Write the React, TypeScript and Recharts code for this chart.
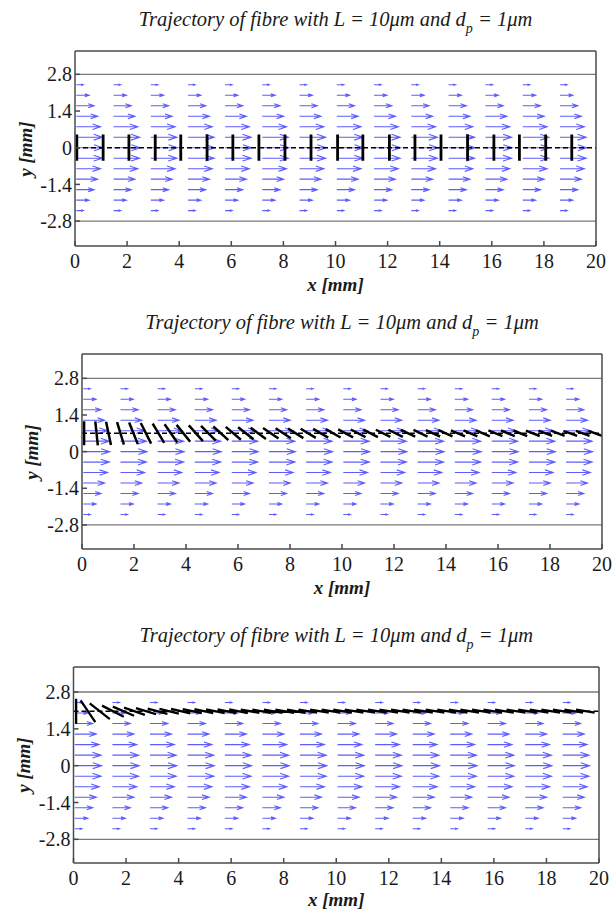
import { ComposedChart, Line, XAxis, YAxis, ReferenceLine } from "recharts";

// velocity field sample grid (mm) and arrow length per row (mm)
const quiverX = [0.05, 1.48, 2.91, 4.34, 5.76, 7.19, 8.62, 10.05, 11.48, 12.91, 14.34, 15.76, 17.19, 18.62];
const quiverY = [2.4, 2.0, 1.6, 1.2, 0.8, 0.4, 0, -0.4, -0.8, -1.2, -1.6, -2.0, -2.4];
const quiverU = [0.27, 0.49, 0.68, 0.82, 0.93, 1.0, 1.02, 1.0, 0.93, 0.82, 0.68, 0.49, 0.27];

const xTicks = [0, 2, 4, 6, 8, 10, 12, 14, 16, 18, 20];
const yTicks = [-2.8, -1.4, 0, 1.4, 2.8];
const wallY = [2.8, -2.8];

// fibre snapshots: centre x (mm), tilt from vertical (deg), drawn length (mm)
const fibre1Y = 0;
const fibre1X = [0.07, 1.08, 2.07, 3.08, 4.06, 5.07, 6.06, 7.06, 8.06, 9.06, 10.08, 11.05, 12.07, 13.05, 14.05, 15.07, 16.08, 17.06, 18.07, 19.07];
const fibre1Tilt = [0, 0, 0, 0, 0, 0, 0, 0, 0, 0, 0, 0, 0, 0, 0, 0, 0, 0, 0, 0];
const fibre1Len = [1, 1, 1, 1, 1, 1, 1, 1, 1, 1, 1, 1, 1, 1, 1, 1, 1, 1, 1, 1];

const fibre2Y = 0.7;
const fibre2X = [0.08, 0.56, 1.02, 1.48, 1.98, 2.46, 2.94, 3.42, 3.9, 4.38, 4.86, 5.34, 5.82, 6.3, 6.78, 7.26, 7.74, 8.22, 8.7, 9.18, 9.66, 10.14, 10.62, 11.1, 11.58, 12.06, 12.54, 13.02, 13.5, 13.98, 14.46, 14.94, 15.42, 15.9, 16.38, 16.86, 17.34, 17.82, 18.3, 18.78, 19.26, 19.74];
const fibre2Tilt = [0, 6, 12, 17, 22, 27, 31, 35, 39, 42, 45, 48, 50, 52, 54, 56, 57, 58, 59, 60, 61, 62, 63, 63, 64, 64, 65, 65, 66, 66, 67, 67, 67, 68, 68, 68, 69, 69, 69, 70, 70, 70];
const fibre2Len = [0.92, 0.92, 0.91, 0.9, 0.89, 0.88, 0.86, 0.85, 0.83, 0.81, 0.8, 0.78, 0.76, 0.75, 0.73, 0.72, 0.7, 0.69, 0.68, 0.67, 0.66, 0.65, 0.64, 0.63, 0.62, 0.62, 0.61, 0.6, 0.6, 0.59, 0.59, 0.58, 0.58, 0.58, 0.57, 0.57, 0.57, 0.56, 0.56, 0.56, 0.56, 0.56];

const fibre3Y = 2.07;
const fibre3X = [0.1, 0.55, 1.0, 1.5, 1.9, 2.32, 2.76, 3.2, 3.64, 4.08, 4.52, 4.96, 5.4, 5.84, 6.28, 6.72, 7.16, 7.6, 8.04, 8.48, 8.92, 9.36, 9.8, 10.24, 10.68, 11.12, 11.56, 12.0, 12.44, 12.88, 13.32, 13.76, 14.2, 14.64, 15.08, 15.52, 15.96, 16.4, 16.84, 17.28, 17.72, 18.16, 18.6, 19.04, 19.48];
const fibre3Tilt = [0, 34, 52, 63, 67, 71, 73, 75, 76, 77, 78, 78, 79, 79, 79, 80, 80, 80, 80, 80, 81, 81, 81, 81, 81, 81, 81, 81, 81, 81, 81, 81, 81, 81, 81, 81, 81, 81, 81, 81, 81, 81, 81, 81, 81];
const fibre3Len = [0.95, 1.0, 0.97, 0.93, 0.88, 0.84, 0.8, 0.78, 0.76, 0.75, 0.74, 0.73, 0.72, 0.72, 0.72, 0.72, 0.72, 0.72, 0.72, 0.72, 0.72, 0.72, 0.72, 0.72, 0.72, 0.72, 0.72, 0.72, 0.72, 0.72, 0.72, 0.72, 0.72, 0.72, 0.72, 0.72, 0.72, 0.72, 0.72, 0.72, 0.72, 0.72, 0.72, 0.72, 0.72];

type Pt = { x: number; y: number | null };

const SERIF = '"Liberation Serif", "Times New Roman", serif';
const FRAME = "#4a4a4a";

// quiver arrows: shaft + open head, broken by nulls
function quiverPoints(): Pt[] {
  const pts: Pt[] = [];
  quiverY.forEach((y, r) => {
    const u = quiverU[r];
    quiverX.forEach((x) => {
      const tip = x + u;
      pts.push({ x, y }, { x: tip, y }, { x: tip, y: null });
      pts.push(
        { x: tip - 0.33 * u, y: y + 0.11 * u },
        { x: tip, y },
        { x: tip - 0.33 * u, y: y - 0.11 * u },
        { x: tip, y: null },
      );
    });
  });
  return pts;
}

function fibrePoints(xs: number[], cy: number, tilt: number[], len: number[]): Pt[] {
  const pts: Pt[] = [];
  xs.forEach((cx, i) => {
    const a = (tilt[i] * Math.PI) / 180;
    const h = len[i] / 2;
    const dx = h * Math.sin(a);
    const dy = h * Math.cos(a);
    pts.push({ x: cx - dx, y: cy + dy }, { x: cx + dx, y: cy - dy }, { x: cx + dx, y: null });
  });
  return pts;
}

const quiver = quiverPoints();

interface PanelProps {
  top: number;
  left: number;
  right: number;
  bottom: number;
  yDomain: [number, number];
  fibre: Pt[];
  centreY: number;
  fibreWidth: number;
  titleBase: number;
  xLabelY: number;
  yLabelX: number;
}

function Panel(p: PanelProps) {
  const chartTop = p.top - 20;
  const height = p.bottom - p.top + 20 + 54;
  const cx = (p.left + p.right) / 2;
  const cy = (p.top + p.bottom) / 2;
  const tickStyle = { fill: "#1a1a1a", fontSize: 20, fontFamily: SERIF };

  return (
    <>
      <div
        style={{
          position: "absolute",
          left: cx,
          top: p.titleBase - 16.75,
          transform: "translateX(-50%)",
          whiteSpace: "nowrap",
          fontFamily: SERIF,
          fontStyle: "italic",
          fontSize: 20.5,
          lineHeight: "20px",
          color: "#1a1a1a",
        }}
      >
        Trajectory of fibre with L = 10μm and d
        <span style={{ fontSize: 14, position: "relative", top: 7 }}>p</span> = 1μm
      </div>
      <div
        style={{
          position: "absolute",
          left: cx,
          top: p.xLabelY,
          transform: "translate(-50%, -50%)",
          whiteSpace: "nowrap",
          fontFamily: SERIF,
          fontStyle: "italic",
          fontWeight: "bold",
          fontSize: 19,
          lineHeight: "19px",
          color: "#1a1a1a",
        }}
      >
        x [mm]
      </div>
      <div
        style={{
          position: "absolute",
          left: p.yLabelX,
          top: cy,
          transform: "translate(-50%, -50%) rotate(-90deg)",
          whiteSpace: "nowrap",
          fontFamily: SERIF,
          fontStyle: "italic",
          fontWeight: "bold",
          fontSize: 19,
          lineHeight: "19px",
          color: "#1a1a1a",
        }}
      >
        y [mm]
      </div>
      <div style={{ position: "absolute", left: 0, top: chartTop }}>
        <ComposedChart
          width={612}
          height={height}
          margin={{ top: 15, left: p.left - 45, right: 612 - p.right - 5, bottom: 4 }}
        >
          <XAxis
            xAxisId="b"
            type="number"
            dataKey="x"
            domain={[0, 20]}
            ticks={xTicks}
            interval={0}
            allowDataOverflow
            height={50}
            tickSize={-5}
            tickMargin={13}
            stroke={FRAME}
            strokeWidth={1.5}
            tick={tickStyle}
          />
          <XAxis
            xAxisId="t"
            orientation="top"
            type="number"
            dataKey="x"
            domain={[0, 20]}
            ticks={xTicks}
            interval={0}
            allowDataOverflow
            height={5}
            tickSize={-5}
            tick={false}
            stroke={FRAME}
            strokeWidth={1.5}
          />
          <YAxis
            yAxisId="l"
            type="number"
            domain={p.yDomain}
            ticks={yTicks}
            interval={0}
            allowDataOverflow
            width={45}
            tickSize={-5}
            tickMargin={8}
            stroke={FRAME}
            strokeWidth={1.5}
            tick={tickStyle}
          />
          <YAxis
            yAxisId="r"
            orientation="right"
            type="number"
            domain={p.yDomain}
            ticks={yTicks}
            interval={0}
            allowDataOverflow
            width={5}
            tickSize={-5}
            tick={false}
            stroke={FRAME}
            strokeWidth={1.5}
          />
          {wallY.map((w) => (
            <ReferenceLine key={w} xAxisId="b" yAxisId="l" y={w} stroke="#7a7a7a" strokeWidth={1.3} />
          ))}
          <Line
            xAxisId="b"
            yAxisId="l"
            data={quiver}
            dataKey="y"
            stroke="#5c5cff"
            strokeWidth={1.1}
            dot={false}
            activeDot={false}
            connectNulls={false}
            isAnimationActive={false}
          />
          <ReferenceLine
            xAxisId="b"
            yAxisId="l"
            y={p.centreY}
            stroke="#000"
            strokeWidth={1.5}
            strokeDasharray="5 3"
          />
          <Line
            xAxisId="b"
            yAxisId="l"
            data={p.fibre}
            dataKey="y"
            stroke="#000"
            strokeWidth={p.fibreWidth}
            dot={false}
            activeDot={false}
            connectNulls={false}
            isAnimationActive={false}
          />
        </ComposedChart>
      </div>
    </>
  );
}

export default function App() {
  return (
    <div style={{ position: "absolute", left: 0, top: 0, width: 612, height: 912, background: "#fff" }}>
      <Panel
        top={51}
        left={75}
        right={596}
        bottom={246}
        yDomain={[-3.75, 3.69]}
        fibre={fibrePoints(fibre1X, fibre1Y, fibre1Tilt, fibre1Len)}
        centreY={fibre1Y}
        fibreWidth={2.8}
        titleBase={26}
        xLabelY={284}
        yLabelX={25}
      />
      <Panel
        top={354}
        left={82}
        right={602}
        bottom={549}
        yDomain={[-3.72, 3.73]}
        fibre={fibrePoints(fibre2X, fibre2Y, fibre2Tilt, fibre2Len)}
        centreY={fibre2Y}
        fibreWidth={2.5}
        titleBase={329}
        xLabelY={587}
        yLabelX={31}
      />
      <Panel
        top={667}
        left={73.5}
        right={599}
        bottom={863}
        yDomain={[-3.7, 3.75]}
        fibre={fibrePoints(fibre3X, fibre3Y, fibre3Tilt, fibre3Len)}
        centreY={fibre3Y}
        fibreWidth={2.3}
        titleBase={642}
        xLabelY={899}
        yLabelX={23}
      />
    </div>
  );
}
